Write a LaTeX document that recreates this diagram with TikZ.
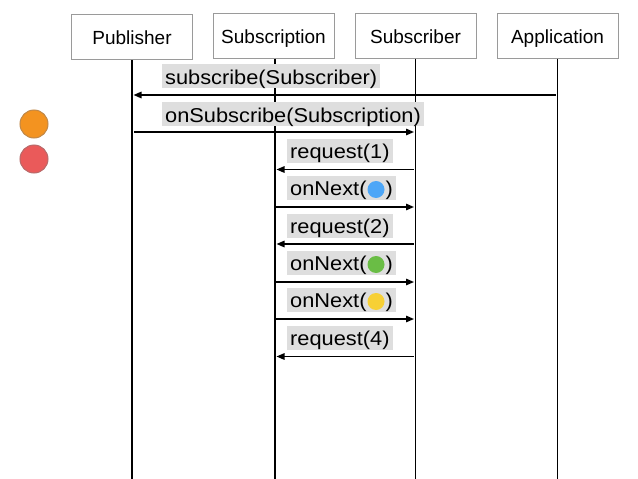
\documentclass[tikz,border=0pt]{standalone}
\usepackage{fontspec}
\setmainfont{Liberation Sans}
\newfontfamily\lblfont{Liberation Sans}[FakeStretch=1.09]
\usetikzlibrary{arrows.meta}
\definecolor{boxgray}{HTML}{9A9A9A}
\definecolor{lblbg}{HTML}{DEDEDE}
\definecolor{dotblue}{HTML}{4DA6F7}
\definecolor{dotgreen}{HTML}{6ABD45}
\definecolor{dotyellow}{HTML}{F7D035}
\definecolor{bigorange}{HTML}{F39320}
\definecolor{bigorangeb}{HTML}{C08848}
\definecolor{bigred}{HTML}{EA5A5A}
\definecolor{bigredb}{HTML}{B86A6A}
\newcommand{\msgdot}[1]{\tikz[baseline=-6pt]{\fill[#1] (0,0) circle[radius=8.5pt];}}
\begin{document}
\begin{tikzpicture}[x=1pt,y=-1pt,
  actor/.style={draw=boxgray, line width=1pt, minimum width=121pt, minimum height=45pt, inner sep=0pt, text height=18pt, text depth=2pt, font=\fontsize{19}{22}\selectfont},
  lifeline/.style={line width=1.4pt},
  lbl/.style={fill=lblbg, anchor=west, inner xsep=3pt, inner ysep=2.5pt, text height=17.5pt, text depth=1.5pt, font=\lblfont\fontsize{20}{23}\selectfont},
  msg/.style={line width=1.4pt, -{Triangle[length=8pt,width=6.5pt]}, shorten >=1.5pt},
  bigdot/.style={circle, minimum size=28pt, inner sep=0pt, line width=1pt}
]
\useasboundingbox (0,0) rectangle (638,479);
% actors
\node[actor] (pub) at (132,37) {Publisher};
\node[actor] (subn) at (273.5,35.5) {Subscription};
\node[actor] (subr) at (415.5,35.5) {Subscriber};
\node[actor] (app) at (557.5,35.5) {Application};
% lifeline ends
\coordinate (pubE) at (132,479);
\coordinate (subnE) at (275,479);
\coordinate (subrE) at (415.5,479);
\coordinate (appE) at (557.5,479);
\draw[lifeline] (pub.south -| pubE) -- (pubE);
\draw[lifeline] (subn.south -| subnE) -- (subnE);
\draw[lifeline] (subr.south -| subrE) -- (subrE);
\draw[lifeline] (app.south -| appE) -- (appE);
% labels
\node[lbl] (l1) at (162,76) {subscribe(Subscriber)};
\node[lbl] (l2) at (162,114) {onSubscribe(Subscription)};
\node[lbl] (l3) at (287,150.5) {request(1)};
\node[lbl] (l4) at (287,187.5) {onNext(\hspace{1pt}\msgdot{dotblue}\hspace{1pt})};
\node[lbl] (l5) at (287,225.5) {request(2)};
\node[lbl] (l6) at (287,262.5) {onNext(\hspace{1pt}\msgdot{dotgreen}\hspace{1pt})};
\node[lbl] (l7) at (287,299.5) {onNext(\hspace{1pt}\msgdot{dotyellow}\hspace{1pt})};
\node[lbl] (l8) at (287,337.5) {request(4)};
% message coordinates
\coordinate (a1) at (557.5,95);  \coordinate (p1) at (132,95);
\coordinate (p2) at (132,132);   \coordinate (r2) at (415.5,132);
\coordinate (r3) at (415.5,169.5); \coordinate (s3) at (275,169.5);
\coordinate (s4) at (275,207);   \coordinate (r4) at (415.5,207);
\coordinate (r5) at (415.5,244); \coordinate (s5) at (275,244);
\coordinate (s6) at (275,282);   \coordinate (r6) at (415.5,282);
\coordinate (s7) at (275,319);   \coordinate (r7) at (415.5,319);
\coordinate (r8) at (415.5,356.5); \coordinate (s8) at (275,356.5);
% messages
\draw[msg, shorten <=2pt] (a1) -- (p1);
\draw[msg, shorten <=2pt] (p2) -- (r2);
\draw[msg, shorten <=2pt] (r3) -- (s3);
\draw[msg] (s4) -- (r4);
\draw[msg, shorten <=2pt] (r5) -- (s5);
\draw[msg] (s6) -- (r6);
\draw[msg] (s7) -- (r7);
\draw[msg, shorten <=2pt] (r8) -- (s8);
% side dots
\node[bigdot, fill=bigorange, draw=bigorangeb] (od) at (34,124) {};
\node[bigdot, fill=bigred, draw=bigredb] (rd) at (34,159) {};
\end{tikzpicture}
\end{document}
